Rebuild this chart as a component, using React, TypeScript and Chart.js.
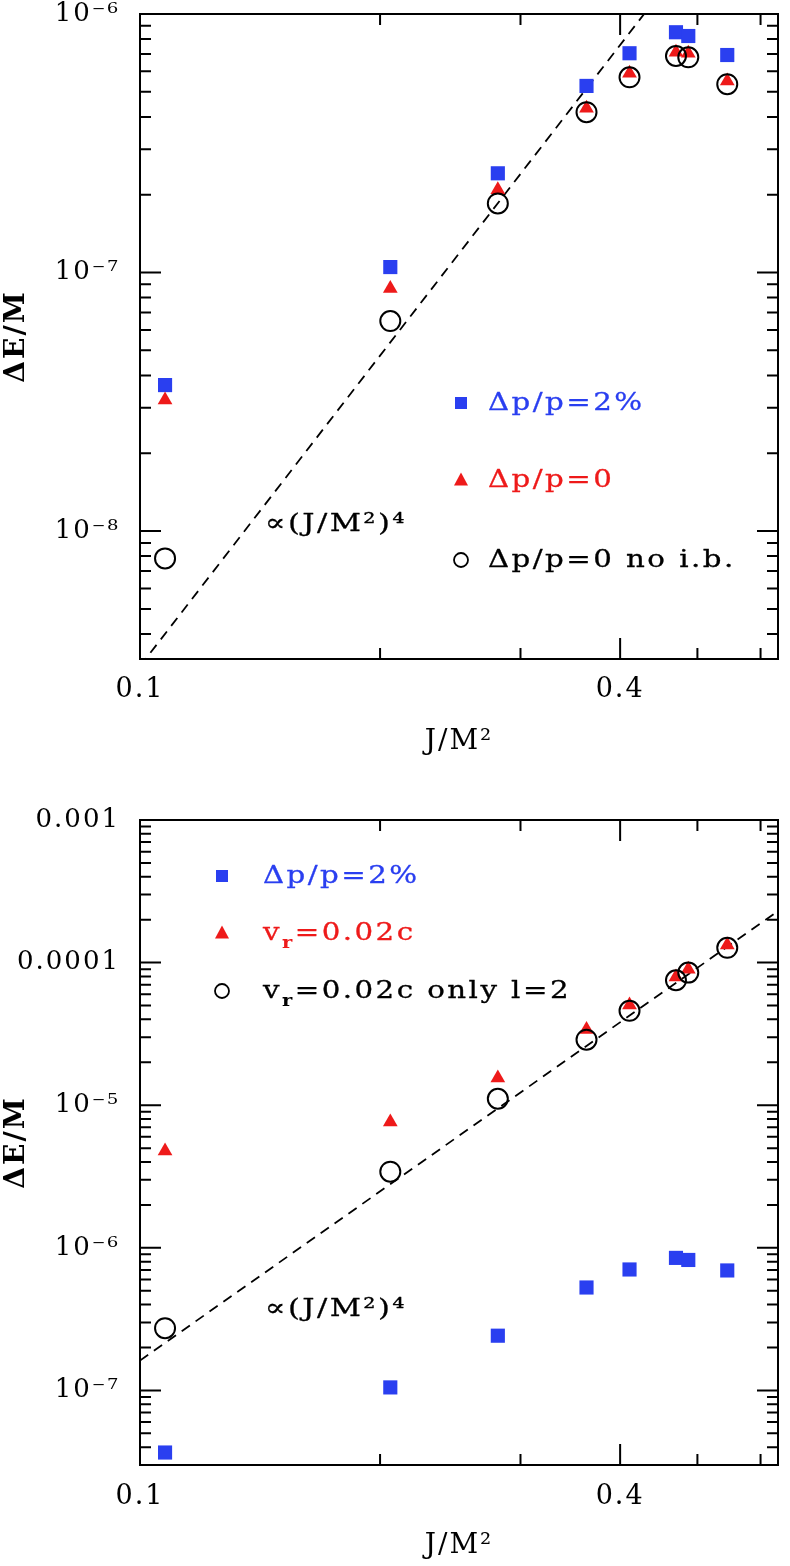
import React, { useEffect, useRef } from 'react';
import { Chart, registerables } from 'chart.js';

Chart.register(...registerables);

// ---------------- data ----------------
const J_VALUES = [0.1075, 0.206, 0.281, 0.363, 0.411, 0.47, 0.487, 0.545];
const DE_DP2 = [3.67e-8, 1.05e-7, 2.42e-7, 5.27e-7, 7.05e-7, 8.5e-7, 8.22e-7, 6.94e-7];
const DE_DP0 = [3.21e-8, 8.68e-8, 2.09e-7, 4.32e-7, 5.9e-7, 7.11e-7, 7.05e-7, 5.5e-7];
const DE_DP0_NOIB = [7.84e-9, 6.49e-8, 1.85e-7, 4.17e-7, 5.69e-7, 6.88e-7, 6.8e-7, 5.35e-7];
const DE_VR = [4.77e-6, 7.64e-6, 1.55e-5, 3.39e-5, 5.04e-5, 7.94e-5, 8.98e-5, 1.33e-4];
const DE_VR_L2 = [2.73e-7, 3.42e-6, 1.11e-5, 2.88e-5, 4.59e-5, 7.52e-5, 8.51e-5, 1.27e-4];

const FIT_TOP_J = [0.1, 0.44];
const FIT_TOP_E = [3.0e-9, 1.11e-6];
const FIT_BOT_J = [0.1, 0.631];
const FIT_BOT_E = [1.62e-7, 2.3e-4];

const X_RANGE = [0.1, 0.631];
const TOP_Y_RANGE = [3.2e-9, 1e-6];
const BOT_Y_RANGE = [3.16e-8, 1e-3];

const X_TICKS = [0.1, 0.4];
const X_TICK_LABELS = ['0.1', '0.4'];
const X_MINOR_TICKS = [0.2, 0.3, 0.5, 0.6];
const TOP_Y_TICKS = [1e-8, 1e-7, 1e-6];
const TOP_Y_TICK_LABELS = ['10\u207B\u2078', '10\u207B\u2077', '10\u207B\u2076'];
const BOT_Y_TICKS = [1e-7, 1e-6, 1e-5, 1e-4, 1e-3];
const BOT_Y_TICK_LABELS = ['10\u207B\u2077', '10\u207B\u2076', '10\u207B\u2075', '0.0001', '0.001'];

const X_TITLE = 'J/M\u00B2';
const Y_TITLE = '\u0394E/M';
const FIT_LABEL = '\u221D(J/M\u00B2)\u2074';
const FIT_LABEL_TOP_AT = [0.1434, 1.0e-8];
const FIT_LABEL_BOT_AT = [0.1434, 3.35e-7];

const TOP_LEGEND = ['\u0394p/p=2%', '\u0394p/p=0', '\u0394p/p=0 no i.b.'];
const BOT_LEGEND = ['\u0394p/p=2%', 'v_r=0.02c', 'v_r=0.02c only l=2'];

// ---------------- style ----------------
const BLUE = '#2a3ff0';
const RED = '#ee1a1a';
const BLACK = '#000000';
const SERIF = '"DejaVu Serif", "Liberation Serif", serif';
const TEXT_SX = 1.22;

type Kind = 'square' | 'triangle' | 'circle';
const KIND_COLOR: Record<Kind, string> = { square: BLUE, triangle: RED, circle: BLACK };

interface PanelSpec {
  yRange: number[];
  yTicks: number[];
  yLabels: string[];
  series: { label: string; data: number[]; kind: Kind }[];
  fitJ: number[];
  fitE: number[];
  fitLabelAt: number[];
  legend: string[];
  legendMarkerDx: number;
  legendTextDx: number;
  legendBaselines: number[];
  padTop: number;
  padBottom: number;
  xAxisHeight: number;
  tickPad: number;
  height: number;
}

const TOP_PANEL: PanelSpec = {
  yRange: TOP_Y_RANGE,
  yTicks: TOP_Y_TICKS,
  yLabels: TOP_Y_TICK_LABELS,
  series: [
    { label: TOP_LEGEND[0], data: DE_DP2, kind: 'square' },
    { label: TOP_LEGEND[1], data: DE_DP0, kind: 'triangle' },
    { label: TOP_LEGEND[2], data: DE_DP0_NOIB, kind: 'circle' },
  ],
  fitJ: FIT_TOP_J,
  fitE: FIT_TOP_E,
  fitLabelAt: FIT_LABEL_TOP_AT,
  legend: TOP_LEGEND,
  legendMarkerDx: 321,
  legendTextDx: 348,
  legendBaselines: [396, 473, 553],
  padTop: 14,
  padBottom: 24,
  xAxisHeight: 100,
  tickPad: 15,
  height: 783,
};

const BOT_PANEL: PanelSpec = {
  yRange: BOT_Y_RANGE,
  yTicks: BOT_Y_TICKS,
  yLabels: BOT_Y_TICK_LABELS,
  series: [
    { label: BOT_LEGEND[0], data: DE_DP2, kind: 'square' },
    { label: BOT_LEGEND[1], data: DE_VR, kind: 'triangle' },
    { label: BOT_LEGEND[2], data: DE_VR_L2, kind: 'circle' },
  ],
  fitJ: FIT_BOT_J,
  fitE: FIT_BOT_E,
  fitLabelAt: FIT_LABEL_BOT_AT,
  legend: BOT_LEGEND,
  legendMarkerDx: 82,
  legendTextDx: 123,
  legendBaselines: [63, 120, 178],
  padTop: 37,
  padBottom: 3,
  xAxisHeight: 98,
  tickPad: 16,
  height: 783,
};

const pts = (xs: number[], ys: number[]) => xs.map((x, i) => ({ x, y: ys[i] }));

function drawMarker(ctx: CanvasRenderingContext2D, kind: Kind, x: number, y: number) {
  ctx.save();
  if (kind === 'square') {
    ctx.fillStyle = BLUE;
    ctx.fillRect(x - 6, y - 6, 12, 12);
  } else if (kind === 'triangle') {
    ctx.fillStyle = RED;
    ctx.beginPath();
    ctx.moveTo(x, y - 7.5);
    ctx.lineTo(x + 7, y + 5.5);
    ctx.lineTo(x - 7, y + 5.5);
    ctx.closePath();
    ctx.fill();
  } else {
    ctx.strokeStyle = BLACK;
    ctx.lineWidth = 1.8;
    ctx.beginPath();
    ctx.arc(x, y, 7, 0, Math.PI * 2);
    ctx.stroke();
  }
  ctx.restore();
}

// draws text with an optional "_x" subscript, horizontally widened
function drawWideText(ctx: CanvasRenderingContext2D, text: string, x: number, y: number, color: string, size: number) {
  ctx.save();
  ctx.translate(x, y);
  ctx.scale(TEXT_SX, 1);
  (ctx as any).letterSpacing = '2px';
  ctx.fillStyle = color;
  ctx.strokeStyle = color;
  ctx.lineWidth = 0.3;
  ctx.lineJoin = 'round';
  ctx.textBaseline = 'alphabetic';
  ctx.textAlign = 'left';
  let cx = 0;
  const parts = text.split(/(_.)/).filter((p) => p.length > 0);
  for (const p of parts) {
    if (p.startsWith('_')) {
      ctx.font = `bold ${Math.round(size * 0.66)}px ${SERIF}`;
      const t = p.slice(1);
      ctx.fillText(t, cx, 8);
      cx += ctx.measureText(t).width;
    } else {
      ctx.font = `${size}px ${SERIF}`;
      ctx.fillText(p, cx, 0);
      ctx.strokeText(p, cx, 0);
      cx += ctx.measureText(p).width;
    }
  }
  ctx.restore();
}

function makePlugin(spec: PanelSpec) {
  return {
    id: 'frameAndNotes',
    beforeDraw(chart: any) {
      chart.ctx.letterSpacing = '2px';
    },
    beforeDatasetsDraw(chart: any) {
      const { ctx, chartArea: a, scales } = chart;
      const xs = scales.x;
      const ys = scales.y;
      const LONG = 21;
      const SHORT = 11;
      ctx.save();
      ctx.strokeStyle = BLACK;
      ctx.lineWidth = 2;
      ctx.strokeRect(a.left, a.top, a.right - a.left, a.bottom - a.top);
      ctx.beginPath();
      const xTick = (v: number, len: number) => {
        const px = xs.getPixelForValue(v);
        ctx.moveTo(px, a.bottom);
        ctx.lineTo(px, a.bottom - len);
        ctx.moveTo(px, a.top);
        ctx.lineTo(px, a.top + len);
      };
      const yTick = (v: number, len: number) => {
        const py = ys.getPixelForValue(v);
        ctx.moveTo(a.left, py);
        ctx.lineTo(a.left + len, py);
        ctx.moveTo(a.right, py);
        ctx.lineTo(a.right - len, py);
      };
      X_TICKS.forEach((v) => xTick(v, LONG));
      X_MINOR_TICKS.forEach((v) => xTick(v, SHORT));
      const [ymin, ymax] = spec.yRange;
      const d0 = Math.floor(Math.log10(ymin));
      const d1 = Math.ceil(Math.log10(ymax));
      for (let d = d0; d <= d1; d++) {
        for (let m = 1; m <= 9; m++) {
          const v = m * Math.pow(10, d);
          if (v < ymin * 0.999 || v > ymax * 1.001) continue;
          yTick(v, m === 1 ? LONG : SHORT);
        }
      }
      ctx.stroke();
      ctx.restore();
    },
    afterDatasetsDraw(chart: any) {
      const { ctx, chartArea: a, scales } = chart;
      const fx = scales.x.getPixelForValue(spec.fitLabelAt[0]);
      const fy = scales.y.getPixelForValue(spec.fitLabelAt[1]);
      drawWideText(ctx, FIT_LABEL, fx, fy, BLACK, 25);
      spec.series.forEach((s, i) => {
        const base = a.top + spec.legendBaselines[i];
        drawMarker(ctx, s.kind, a.left + spec.legendMarkerDx, base - 7);
        drawWideText(ctx, spec.legend[i], a.left + spec.legendTextDx, base, KIND_COLOR[s.kind], 24);
      });
    },
  };
}

function makeConfig(spec: PanelSpec): any {
  const datasets: any[] = [
    {
      label: 'fit',
      data: pts(spec.fitJ, spec.fitE),
      showLine: true,
      pointRadius: 0,
      borderColor: BLACK,
      borderWidth: 1.8,
      borderDash: [10, 7],
      fill: false,
      order: 4,
    },
  ];
  spec.series.forEach((s) => {
    const base: any = { label: s.label, data: pts(J_VALUES, s.data), showLine: false };
    if (s.kind === 'square') {
      Object.assign(base, { pointStyle: 'rect', pointRadius: 10, backgroundColor: BLUE, borderWidth: 0, order: 3 });
    } else if (s.kind === 'triangle') {
      Object.assign(base, { pointStyle: 'triangle', pointRadius: 8.5, backgroundColor: RED, borderWidth: 0, order: 2 });
    } else {
      Object.assign(base, {
        pointStyle: 'circle',
        pointRadius: 10,
        backgroundColor: 'rgba(0,0,0,0)',
        borderColor: BLACK,
        borderWidth: 2,
        order: 1,
      });
    }
    datasets.push(base);
  });

  return {
    type: 'scatter',
    data: { datasets },
    options: {
      responsive: false,
      animation: false,
      events: [],
      layout: { padding: { top: spec.padTop, right: 10, bottom: spec.padBottom, left: 0 } },
      plugins: { legend: { display: false }, tooltip: { enabled: false } },
      scales: {
        x: {
          type: 'logarithmic',
          position: 'bottom',
          min: X_RANGE[0],
          max: X_RANGE[1],
          afterBuildTicks: (s: any) => {
            s.ticks = X_TICKS.map((v) => ({ value: v }));
          },
          afterFit: (s: any) => {
            s.height = spec.xAxisHeight;
            s.paddingLeft = 0;
            s.paddingRight = 0;
          },
          ticks: {
            autoSkip: false,
            maxRotation: 0,
            minRotation: 0,
            padding: spec.tickPad,
            color: BLACK,
            font: { family: SERIF, size: 27 },
            callback: (v: number) => {
              const i = X_TICKS.findIndex((t) => Math.abs(t - v) < 1e-9);
              return i >= 0 ? X_TICK_LABELS[i] : '';
            },
          },
          grid: { display: false, drawTicks: false },
          border: { display: false },
          title: {
            display: true,
            text: X_TITLE,
            color: BLACK,
            font: { family: SERIF, size: 28 },
            padding: { top: 0, bottom: 0 },
          },
        },
        y: {
          type: 'logarithmic',
          position: 'left',
          min: spec.yRange[0],
          max: spec.yRange[1],
          afterBuildTicks: (s: any) => {
            s.ticks = spec.yTicks.map((v) => ({ value: v }));
          },
          afterFit: (s: any) => {
            s.width = 140;
            s.paddingTop = 0;
            s.paddingBottom = 0;
          },
          ticks: {
            autoSkip: false,
            padding: 20,
            color: BLACK,
            font: { family: SERIF, size: 26 },
            callback: (v: number) => {
              const i = spec.yTicks.findIndex((t) => Math.abs(t - v) / t < 1e-6);
              return i >= 0 ? spec.yLabels[i] : '';
            },
          },
          grid: { display: false, drawTicks: false },
          border: { display: false },
          title: {
            display: true,
            text: Y_TITLE,
            color: BLACK,
            font: { family: SERIF, size: 28, weight: 'bold' },
            padding: { top: 0, bottom: 0 },
          },
        },
      },
    },
    plugins: [makePlugin(spec)],
  };
}

function Panel({ spec }: { spec: PanelSpec }) {
  const ref = useRef<HTMLCanvasElement | null>(null);
  useEffect(() => {
    if (!ref.current) return;
    const chart = new Chart(ref.current, makeConfig(spec));
    return () => chart.destroy();
  }, [spec]);
  return (
    <div style={{ width: 790, height: spec.height, position: 'relative' }}>
      <canvas ref={ref} width={790} height={spec.height} style={{ display: 'block', width: 790, height: spec.height }} />
    </div>
  );
}

export default function App() {
  return (
    <div style={{ position: 'absolute', left: 0, top: 0, width: 790, height: 1566, background: '#ffffff' }}>
      <Panel spec={TOP_PANEL} />
      <Panel spec={BOT_PANEL} />
    </div>
  );
}
